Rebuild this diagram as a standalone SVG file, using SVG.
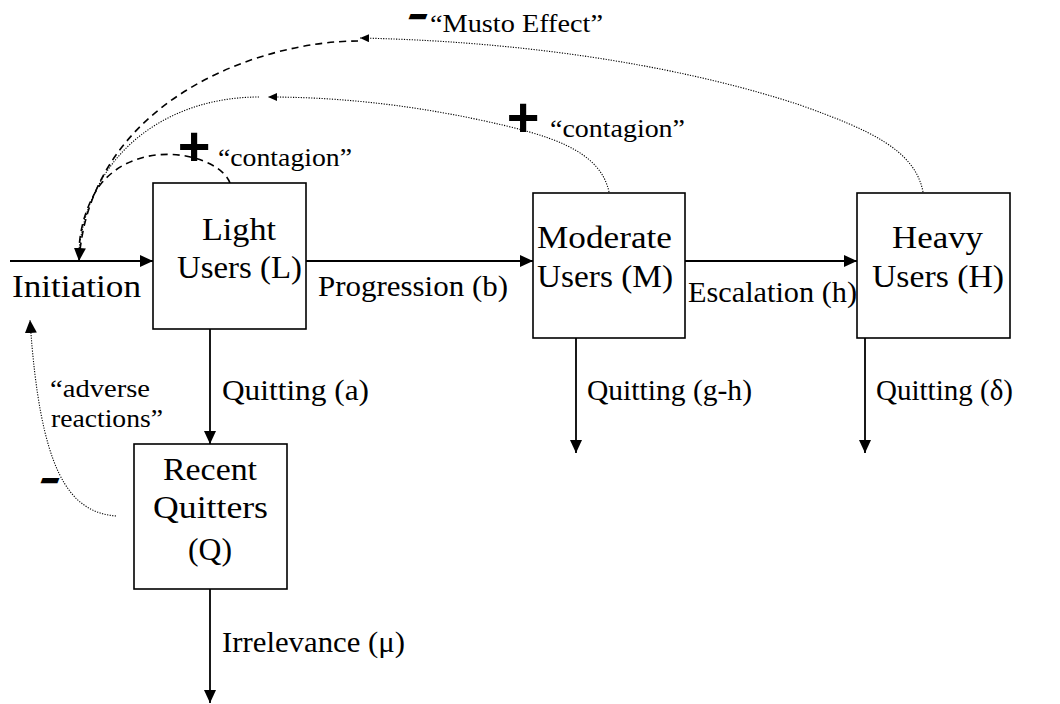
<svg xmlns="http://www.w3.org/2000/svg" width="1060" height="704" viewBox="0 0 1060 704">
<style>
.box{fill:#fff;stroke:#000;stroke-width:1.6}
.lbl{font-family:"Liberation Serif","Times New Roman",serif;font-size:32px;fill:#000}
.flow{font-family:"Liberation Serif","Times New Roman",serif;font-size:29px;fill:#000}
.qt{font-family:"Liberation Serif","Times New Roman",serif;font-size:26px;fill:#000}
.sign{font-family:"Liberation Sans",Arial,sans-serif;fill:#000}
.minus{font-family:"Liberation Sans",Arial,sans-serif;font-size:22px;font-weight:bold;font-style:italic;fill:#000;stroke:#000;stroke-width:2.6}
.arr{fill:none;stroke:#000;stroke-width:1.8}
.dash{fill:none;stroke:#000;stroke-width:1.6;stroke-dasharray:7 5}
.dot{fill:none;stroke:#000;stroke-width:1.1;stroke-dasharray:1.2 1.4}
</style>
<defs>
<marker id="big" markerUnits="userSpaceOnUse" markerWidth="13" markerHeight="12" viewBox="0 0 13 12" refX="13" refY="6" orient="auto">
<path d="M0,0 L13,6 L0,12 z" fill="#000"/>
</marker>
<marker id="small" markerUnits="userSpaceOnUse" markerWidth="9" markerHeight="8" viewBox="0 0 9 8" refX="9" refY="4" orient="auto">
<path d="M0,0 L9,4 L0,8 z" fill="#000"/>
</marker>
</defs>
<rect width="1060" height="704" fill="#fff"/>
<g id="connectors">
<path class="arr" d="M10,261 H153" marker-end="url(#big)"/>
<path class="arr" d="M306,261 H533" marker-end="url(#big)"/>
<path class="arr" d="M685,261 H857" marker-end="url(#big)"/>
<path class="arr" d="M210,329 V444" marker-end="url(#big)"/>
<path class="arr" d="M576,338 V453" marker-end="url(#big)"/>
<path class="arr" d="M865,338 V453" marker-end="url(#big)"/>
<path class="arr" d="M210,589 V703" marker-end="url(#big)"/>
<path class="dash" d="M358,41 C260,41 90,100 79,261" marker-end="url(#big)"/>
<path class="dash" d="M230,183 C220,155 140,135 100,185 C88,202 80,225 79,250"/>
<path class="dot" d="M259,97 C170,97 90,150 79,250"/>
<path class="dot" d="M609,192 C600,150 550,135 480,120 C400,103 330,97 268,97" marker-end="url(#small)"/>
<path class="dot" d="M923,192 C915,150 870,130 800,105 C700,72 550,42 360,38" marker-end="url(#small)"/>
<path class="dot" d="M116,516 C68,512 40,470 30,320" marker-end="url(#big)"/>
</g>
<g id="initiation">
<text class="lbl" x="12" y="297" textLength="129" lengthAdjust="spacingAndGlyphs">Initiation</text>
</g>
<g id="light-users">
<rect class="box" x="153" y="183" width="153" height="146"/>
<text class="lbl" x="202" y="240" textLength="74" lengthAdjust="spacingAndGlyphs">Light</text>
<text class="lbl" x="177" y="278" textLength="125" lengthAdjust="spacingAndGlyphs">Users (L)</text>
</g>
<g id="moderate-users">
<rect class="box" x="533" y="193" width="152" height="145"/>
<text class="lbl" x="537" y="248" textLength="135" lengthAdjust="spacingAndGlyphs">Moderate</text>
<text class="lbl" x="537" y="287" textLength="136" lengthAdjust="spacingAndGlyphs">Users (M)</text>
</g>
<g id="heavy-users">
<rect class="box" x="857" y="193" width="153" height="145"/>
<text class="lbl" x="892" y="248" textLength="91" lengthAdjust="spacingAndGlyphs">Heavy</text>
<text class="lbl" x="872" y="287" textLength="132" lengthAdjust="spacingAndGlyphs">Users (H)</text>
</g>
<g id="recent-quitters">
<rect class="box" x="134" y="444" width="153" height="145"/>
<text class="lbl" x="163" y="480" textLength="94" lengthAdjust="spacingAndGlyphs">Recent</text>
<text class="lbl" x="153" y="518" textLength="115" lengthAdjust="spacingAndGlyphs">Quitters</text>
<text class="lbl" x="188" y="560" textLength="44" lengthAdjust="spacingAndGlyphs">(Q)</text>
</g>
<g id="labels">
<text class="flow" x="318" y="296" textLength="190" lengthAdjust="spacingAndGlyphs">Progression (b)</text>
<text class="flow" x="688" y="302" textLength="169" lengthAdjust="spacingAndGlyphs">Escalation (h)</text>
<text class="flow" x="222" y="400" textLength="147" lengthAdjust="spacingAndGlyphs">Quitting (a)</text>
<text class="flow" x="587" y="400" textLength="165" lengthAdjust="spacingAndGlyphs">Quitting (g-h)</text>
<text class="flow" x="876" y="400" textLength="137" lengthAdjust="spacingAndGlyphs">Quitting (δ)</text>
<text class="flow" x="222" y="652" textLength="183" lengthAdjust="spacingAndGlyphs">Irrelevance (μ)</text>
<text class="qt" x="50" y="397" textLength="100" lengthAdjust="spacingAndGlyphs">“adverse</text>
<text class="qt" x="51" y="427" textLength="112" lengthAdjust="spacingAndGlyphs">reactions”</text>
<text class="qt" x="218" y="166" textLength="134" lengthAdjust="spacingAndGlyphs">“contagion”</text>
<text class="qt" x="550" y="137" textLength="135" lengthAdjust="spacingAndGlyphs">“contagion”</text>
<text class="qt" x="430" y="32" textLength="173" lengthAdjust="spacingAndGlyphs">“Musto Effect”</text>
<text class="sign" x="194" y="165" font-size="56" font-weight="bold" text-anchor="middle">+</text>
<text class="sign" x="523" y="136" font-size="56" font-weight="bold" text-anchor="middle">+</text>
<text class="minus" x="418" y="22" text-anchor="middle" textLength="15" lengthAdjust="spacingAndGlyphs">-</text>
<text class="minus" x="50" y="486" text-anchor="middle" textLength="15" lengthAdjust="spacingAndGlyphs">-</text>
</g>
</svg>
